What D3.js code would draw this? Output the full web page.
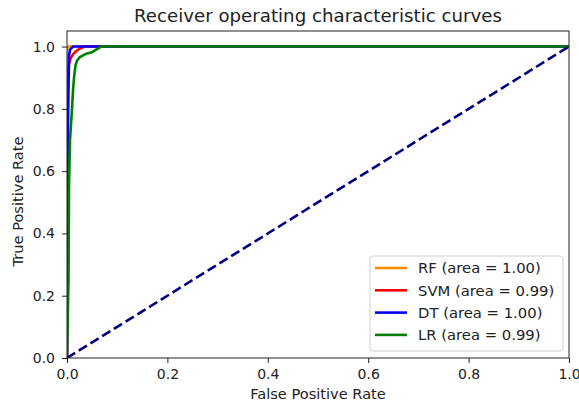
<!DOCTYPE html>
<html><head><meta charset="utf-8">
<script src="https://cdn.jsdelivr.net/npm/d3@7"></script>
<style>body{margin:0;background:#fff}text{font-family:"DejaVu Sans",sans-serif}</style>
</head><body><svg id="c" width="579" height="410"></svg>
<script>
const seriesNames = ["RF", "SVM", "DT", "LR"];
const seriesAreas = ["1.00", "0.99", "1.00", "0.99"];
const seriesColors = ["darkorange", "red", "blue", "green"];
const rfFpr = [0, 0, 0.002, 1];
const rfTpr = [0, 0.99, 1, 1];
const svmFpr = [0, 0, 0.002, 0.005, 0.008, 0.012, 0.018, 0.025, 0.035, 1];
const svmTpr = [0, 0.9, 0.93, 0.95, 0.965, 0.975, 0.985, 0.993, 1, 1];
const dtFpr = [0, 0.001, 0.002, 0.004, 0.006, 0.012, 1];
const dtTpr = [0, 0.55, 0.75, 0.97, 0.99, 1, 1];
const lrFpr = [0, 0.003, 0.004, 0.006, 0.008, 0.01, 0.012, 0.014, 0.017, 0.02, 0.025, 0.032, 0.04, 0.05, 0.058, 0.068, 1];
const lrTpr = [0, 0.25, 0.55, 0.7, 0.75, 0.8, 0.86, 0.9, 0.94, 0.955, 0.965, 0.972, 0.978, 0.982, 0.99, 1, 1];
const diagFpr = [0, 1];
const diagTpr = [0, 1];
const xTicks = [0, 0.2, 0.4, 0.6, 0.8, 1.0];
const yTicks = [0, 0.2, 0.4, 0.6, 0.8, 1.0];

const svg = d3.select("#c");
const L = 67, R = 569, T = 31, B = 358;
const x = d3.scaleLinear().domain([0, 1]).range([L, R]);
const y = d3.scaleLinear().domain([0, 1.05]).range([B, T]);

svg.append("clipPath").attr("id", "clp").append("rect")
  .attr("x", L).attr("y", T).attr("width", R - L).attr("height", B - T);

const line = d3.line().x(d => x(d[0])).y(d => y(d[1]));
const series = [[rfFpr, rfTpr], [svmFpr, svmTpr], [dtFpr, dtTpr], [lrFpr, lrTpr]];
const g = svg.append("g").attr("clip-path", "url(#clp)");
series.forEach((s, i) => {
  g.append("path").datum(d3.zip(s[0], s[1])).attr("d", line)
    .attr("fill", "none").attr("stroke", seriesColors[i]).attr("stroke-width", 2.6)
    .attr("stroke-linejoin", "round").attr("stroke-linecap", "square");
});
g.append("path").datum(d3.zip(diagFpr, diagTpr)).attr("d", line)
  .attr("fill", "none").attr("stroke", "navy").attr("stroke-width", 2.6)
  .attr("stroke-dasharray", "9.6,4.2");

const xa = svg.append("g").attr("transform", `translate(0,${B})`)
  .call(d3.axisBottom(x).tickValues(xTicks).tickFormat(d3.format(".1f")).tickSizeOuter(0).tickSize(5).tickPadding(6));
const ya = svg.append("g").attr("transform", `translate(${L},0)`)
  .call(d3.axisLeft(y).tickValues(yTicks).tickFormat(d3.format(".1f")).tickSizeOuter(0).tickSize(5).tickPadding(7));
[xa, ya].forEach(a => {
  a.select(".domain").remove();
  a.selectAll("text").attr("font-size", 14).attr("fill", "#222").style("font-family", "DejaVu Sans");
  a.selectAll("line").attr("stroke", "#222");
});
svg.append("rect").attr("x", L).attr("y", T).attr("width", R - L).attr("height", B - T)
  .attr("fill", "none").attr("stroke", "#222").attr("stroke-width", 1);

svg.append("text").attr("x", (L + R) / 2).attr("y", 22).attr("text-anchor", "middle")
  .attr("font-size", 18.2).attr("fill", "#222").text("Receiver operating characteristic curves");
svg.append("text").attr("x", (L + R) / 2).attr("y", 399).attr("text-anchor", "middle")
  .attr("font-size", 14.6).attr("fill", "#222").text("False Positive Rate");
svg.append("text").attr("transform", `translate(22.5,${(T + B) / 2 + 7}) rotate(-90)`).attr("text-anchor", "middle")
  .attr("font-size", 14.6).attr("fill", "#222").text("True Positive Rate");

const lg = svg.append("g");
lg.append("rect").attr("x", 370).attr("y", 256).attr("width", 193).attr("height", 95).attr("rx", 3)
  .attr("fill", "white").attr("fill-opacity", 0.8).attr("stroke", "#d0d0d0");
seriesNames.forEach((n, i) => {
  const yy = 268 + i * 22.3;
  lg.append("line").attr("x1", 375).attr("x2", 407).attr("y1", yy).attr("y2", yy)
    .attr("stroke", seriesColors[i]).attr("stroke-width", 2.6);
  lg.append("text").attr("x", 418).attr("y", yy + 5.2).attr("font-size", 14.8).attr("fill", "#222")
    .text(`${n} (area = ${seriesAreas[i]})`);
});
</script></body></html>
